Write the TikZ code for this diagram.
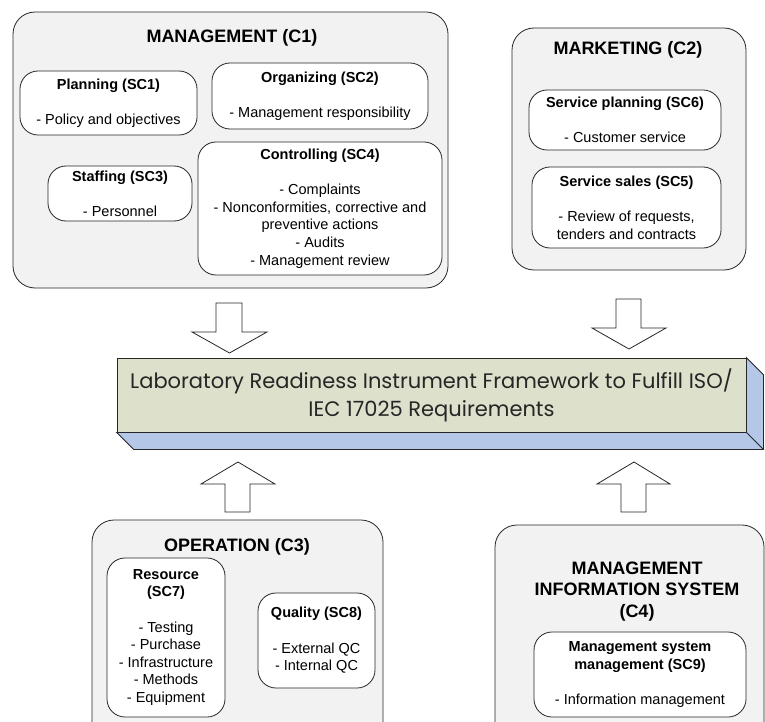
\documentclass[tikz,border=0pt]{standalone}
\usepackage{fontspec}
\setmainfont{Liberation Sans}
\newfontfamily\gothicfont{Poppins}
\usepackage{xcolor}
\usepackage{tikz}
\usetikzlibrary{positioning,calc}

\definecolor{groupfill}{HTML}{F2F2F2}
\definecolor{frontfill}{HTML}{DDE0CB}
\definecolor{sidefill}{HTML}{B4C7E7}

\begin{document}
\begin{tikzpicture}[x=1pt, y=-1pt,
  group/.style={draw=black!85, fill=groupfill, rounded corners=22pt, line width=0.8pt},
  sub/.style={draw=black!85, fill=white, rounded corners=18pt, line width=0.8pt,
    align=center, inner sep=0pt, font=\fontsize{14.5}{17.6}\selectfont},
  grouptitle/.style={font=\fontsize{18}{21.5}\selectfont\bfseries, align=center},
  blockarrow/.style={draw=black!85, fill=white, line width=0.8pt, line join=miter}]
  \clip (0,0) rectangle (765,722);

  % Management
  \node[group, minimum width=435pt, minimum height=276pt] (mgmt) at (230.5,150) {};
  \node[grouptitle] (mgmttitle) at (232,38) {MANAGEMENT (C1)};
  \node[sub, minimum width=177pt, minimum height=64pt] (plan) at (108.5,103)
    {\textbf{Planning (SC1)}\\[17.6pt] - Policy and objectives};
  \node[sub, minimum width=216pt, minimum height=66pt] (org) at (320,96)
    {\textbf{Organizing (SC2)}\\[17.6pt] - Management responsibility};
  \node[sub, minimum width=144pt, minimum height=55pt] (staff) at (120,193.5)
    {\textbf{Staffing (SC3)}\\[17.6pt] - Personnel};
  \node[sub, minimum width=244pt, minimum height=133pt] (ctrl) at (320,208.5)
    {\textbf{Controlling (SC4)}\\[17.6pt] - Complaints\\ - Nonconformities, corrective and\\
     preventive actions\\ - Audits\\ - Management review};

  % Marketing
  \node[group, minimum width=234pt, minimum height=242pt] (mkt) at (629,149) {};
  \node[grouptitle] (mkttitle) at (628,50) {MARKETING (C2)};
  \node[sub, minimum width=192pt, minimum height=60pt] (splan) at (625,120)
    {\textbf{Service planning (SC6)}\\[17.6pt] - Customer service};
  \node[sub, minimum width=189pt, minimum height=81pt] (ssales) at (626.5,207.5)
    {\textbf{Service sales (SC5)}\\[17.6pt] - Review of requests,\\ tenders and contracts};

  % Framework box
  \node[draw=black!85, fill=frontfill, line width=0.8pt, minimum width=629pt, minimum height=74pt,
    align=center, font=\gothicfont\fontsize{21}{28}\selectfont, text=black!85] (lrif) at (431.5,395)
    {Laboratory Readiness Instrument Framework to Fulfill ISO/\\ IEC 17025 Requirements};
  \draw[draw=black!85, fill=sidefill, line width=0.8pt, line join=miter]
    (lrif.south west) -- ++(17,17) -- ($(lrif.south east)+(17,17)$)
    -- ($(lrif.north east)+(17,17)$) -- (lrif.north east) -- (lrif.south east) -- cycle;
  \draw[black!85, line width=0.8pt] (lrif.south east) -- ++(17,17);

  % Block arrows
  \draw[blockarrow] (216,303) -- (242,303) -- (242,332) -- (267,332) -- (229.5,353)
    -- (192,332) -- (216,332) -- cycle;
  \draw[blockarrow] (616,299) -- (641,299) -- (641,328) -- (666,328) -- (629,349)
    -- (592,328) -- (616,328) -- cycle;
  \draw[blockarrow] (225,512) -- (250,512) -- (250,484) -- (275,484) -- (238,462)
    -- (201,484) -- (225,484) -- cycle;
  \draw[blockarrow] (621,512) -- (646,512) -- (646,484) -- (670,484) -- (634,462)
    -- (597,484) -- (621,484) -- cycle;

  % Operation
  \node[group, minimum width=291pt, minimum height=230pt] (oper) at (237.5,635) {};
  \node[grouptitle] (opertitle) at (237,547) {OPERATION (C3)};
  \node[sub, minimum width=118pt, minimum height=159pt] (res) at (166,637.5)
    {\textbf{Resource}\\ \textbf{(SC7)}\\[17.6pt] - Testing\\ - Purchase\\ - Infrastructure\\
     - Methods\\ - Equipment};
  \node[sub, minimum width=117pt, minimum height=95pt] (qual) at (316.5,640.5)
    {\textbf{Quality (SC8)}\\[17.6pt] - External QC\\ - Internal QC};

  % Management information system
  \node[group, minimum width=269pt, minimum height=230pt] (mis) at (629.5,640) {};
  \node[grouptitle] (mistitle) at (637,591.5) {MANAGEMENT\\ INFORMATION SYSTEM\\ (C4)};
  \node[sub, minimum width=212pt, minimum height=85pt] (msm) at (640,674.5)
    {\textbf{Management system}\\ \textbf{management (SC9)}\\[17.6pt] - Information management};
\end{tikzpicture}
\end{document}
